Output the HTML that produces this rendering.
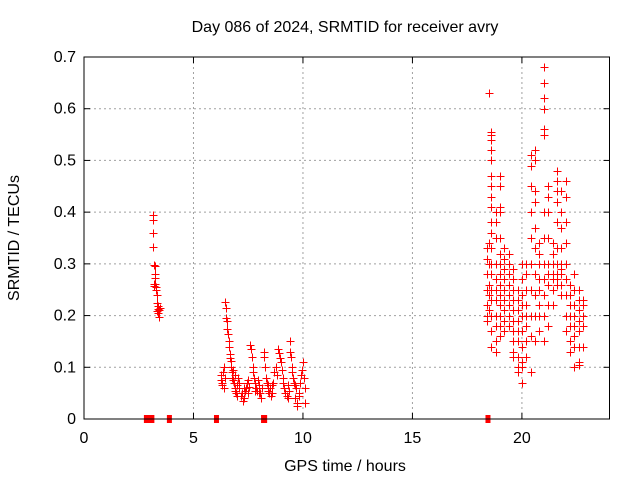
<!DOCTYPE html>
<html><head><meta charset="utf-8"><style>
html,body{margin:0;padding:0;background:#fff;}
svg{display:block;font-family:"Liberation Sans",sans-serif;}
</style></head><body>
<svg id="chart" width="640" height="480">
<text x="345" y="32" font-size="16" text-anchor="middle">Day 086 of 2024, SRMTID for receiver avry</text>
<text x="345" y="471" font-size="16" text-anchor="middle">GPS time / hours</text>
<text transform="translate(19,238) rotate(-90)" font-size="16" text-anchor="middle">SRMTID / TECUs</text>
<g id="grid"></g>
<g id="ticks"></g>
<g id="marks"></g>
<rect x="84" y="57" width="525.5" height="362" fill="none" stroke="#000" stroke-width="1"/>
</svg>
<script>
const xTicks=[0,5,10,15,20];
const yTicks=[0,0.1,0.2,0.3,0.4,0.5,0.6,0.7];
const yTickLabels=["0","0.1","0.2","0.3","0.4","0.5","0.6","0.7"];
const times=[3.15,3.15,3.17,3.17,3.2,3.22,3.23,3.22,3.18,3.2,3.25,3.27,3.3,3.32,3.35,3.37,3.38,3.35,3.42,3.45,3.43,3.4,
6.25,6.27,6.3,6.32,6.35,6.38,6.4,6.42,6.45,6.47,6.5,6.52,6.55,6.57,6.6,6.62,6.65,6.68,6.7,6.72,6.75,6.78,6.8,6.82,6.85,6.88,6.9,6.95,
7.0,7.05,7.1,7.15,7.2,7.25,7.3,7.35,7.4,7.45,7.5,7.55,7.6,7.63,7.65,7.7,7.72,7.75,7.8,7.85,7.9,7.95,8.0,8.05,8.1,8.15,8.2,8.22,8.25,8.3,8.35,8.4,8.45,8.5,8.55,8.6,8.65,8.7,8.75,8.8,8.85,8.9,8.95,9.0,9.05,9.1,9.15,9.2,9.25,9.3,9.35,9.4,9.42,9.45,9.5,9.52,9.55,9.6,9.65,9.7,9.72,9.75,9.8,9.85,9.9,9.95,10.0,10.05,10.1,10.08,9.62,8.0,7.0,6.9,7.1,7.3,7.5,7.8,8.4,8.6,9.1,9.3,9.6,9.8];
const values=[0.395,0.385,0.36,0.333,0.298,0.295,0.28,0.272,0.262,0.258,0.262,0.255,0.25,0.24,0.225,0.218,0.212,0.208,0.21,0.215,0.198,0.205,
0.085,0.075,0.07,0.065,0.09,0.1,0.06,0.08,0.227,0.215,0.196,0.19,0.175,0.165,0.15,0.14,0.125,0.118,0.112,0.1,0.09,0.08,0.075,0.095,0.07,0.06,0.055,0.05,
0.065,0.08,0.06,0.045,0.05,0.035,0.04,0.055,0.06,0.07,0.05,0.062,0.143,0.135,0.12,0.1,0.09,0.08,0.07,0.06,0.055,0.075,0.065,0.05,0.04,0.06,0.13,0.12,0.1,0.08,0.07,0.055,0.05,0.06,0.045,0.065,0.07,0.09,0.1,0.085,0.135,0.128,0.118,0.11,0.095,0.07,0.06,0.05,0.045,0.04,0.055,0.15,0.13,0.12,0.1,0.09,0.08,0.07,0.065,0.06,0.025,0.03,0.05,0.07,0.085,0.095,0.11,0.08,0.06,0.03,0.04,0.05,0.045,0.085,0.07,0.06,0.075,0.055,0.065,0.05,0.08,0.065,0.07,0.045];
const groupTimes=[18.4,18.5,18.6,18.8,19.0,19.2,19.4,19.6,19.8,20.0,20.2,20.4,20.6,20.8,21.0,21.2,21.4,21.6,21.8,22.0,22.2,22.4,22.6,22.8];
const groupValues=[[.33,.31,.28,.25,.22,.2,.19],[.63,.34,.3,.26,.24,.21],
[.555,.55,.54,.52,.5,.47,.45,.43,.41,.38,.36,.33,.3,.28,.25,.23,.2,.17,.14],
[.4,.38,.35,.3,.27,.25,.23,.2,.18,.15,.13],[.47,.45,.41,.4,.35,.32,.3,.28,.26,.24,.22,.2,.18,.16],
[.33,.31,.29,.27,.25,.23,.21,.19,.17],[.32,.3,.28,.26,.24,.22,.2,.18],[.29,.27,.25,.23,.21,.19,.17,.15,.13,.12],
[.25,.23,.21,.19,.17,.15,.12,.1,.09],[.3,.27,.24,.22,.2,.17,.14,.11,.1,.07],[.3,.28,.25,.22,.2,.18,.15,.12],
[.51,.49,.45,.4,.35,.3,.25,.2,.16,.09],[.52,.5,.44,.42,.37,.33,.28,.24,.2,.15],[.34,.32,.3,.27,.25,.22,.2,.17],
[.68,.65,.62,.6,.56,.55,.4,.35,.3,.27,.24,.2,.15],[.45,.43,.4,.35,.3,.28,.26,.22,.18],[.34,.32,.3,.28,.27,.25,.22],
[.48,.46,.44,.42,.38,.33,.3,.28,.27,.26],[.44,.4,.37,.33,.3,.29,.28,.26,.24],[.46,.43,.38,.34,.3,.27,.24,.2,.17],
[.26,.24,.22,.2,.18,.15,.13],[.28,.25,.22,.2,.18,.16,.14,.1],[.25,.23,.21,.19,.17,.14,.11,.105],[.23,.22,.2,.18,.14]];
const zeroTimes=[2.85,3.05,3.1,3.9,6.05,8.2,8.25,18.45];

const X0=84,X1=609.5,Y0=419,Y1=57,XMAX=24,YMAX=0.7;
function sx(t){return X0+(X1-X0)*t/XMAX;}
function sy(v){return Y0-(Y0-Y1)*v/YMAX;}
const NS="http://www.w3.org/2000/svg";
function mk(tag,attrs,parent){const e=document.createElementNS(NS,tag);for(const k in attrs)e.setAttribute(k,attrs[k]);parent.appendChild(e);return e;}
const grid=document.getElementById('grid'),ticks=document.getElementById('ticks'),marks=document.getElementById('marks');
xTicks.forEach(t=>{const x=sx(t);
 if(t>0){const g=mk('line',{x1:x,y1:Y0,x2:x,y2:Y1,stroke:'#a0a0a0','stroke-dasharray':'2,3'},grid);
 
 }
 mk('line',{x1:x,y1:Y0,x2:x,y2:Y0-6,stroke:'#000'},ticks);
 mk('line',{x1:x,y1:Y1,x2:x,y2:Y1+6,stroke:'#000'},ticks);
 const l=mk('text',{x:x,y:443,'font-size':16,'text-anchor':'middle'},ticks);l.textContent=t;
 
 
});
yTicks.forEach((v,i)=>{const y=sy(v);
 if(v>0&&v<YMAX){const g=mk('line',{x1:X0,y1:y,x2:X1,y2:y,stroke:'#a0a0a0','stroke-dasharray':'2,3'},grid);
 
 }
 mk('line',{x1:X0,y1:y,x2:X0+6,y2:y,stroke:'#000'},ticks);
 mk('line',{x1:X1,y1:y,x2:X1-6,y2:y,stroke:'#000'},ticks);
 const l=mk('text',{x:76,y:y+5,'font-size':16,'text-anchor':'end'},ticks);l.textContent=yTickLabels[i];
 
 
});
function plus(t,v){const x=Math.round(sx(t))+0.5,y=Math.round(sy(v))+0.5;
 const p=mk('path',{d:`M${x-4},${y}H${x+4}M${x},${y-4}V${y+4}`,stroke:'#f00','stroke-width':1,fill:'none'},marks);
 
 }
times.forEach((t,i)=>plus(t,values[i]));
groupTimes.forEach((t,g)=>groupValues[g].forEach(v=>plus(t,v)));
zeroTimes.forEach(t=>{const r=mk('rect',{x:sx(t)-2.5,y:Y0-4,width:5,height:8,fill:'#f00'},marks);
 
 });
</script>
</body></html>
